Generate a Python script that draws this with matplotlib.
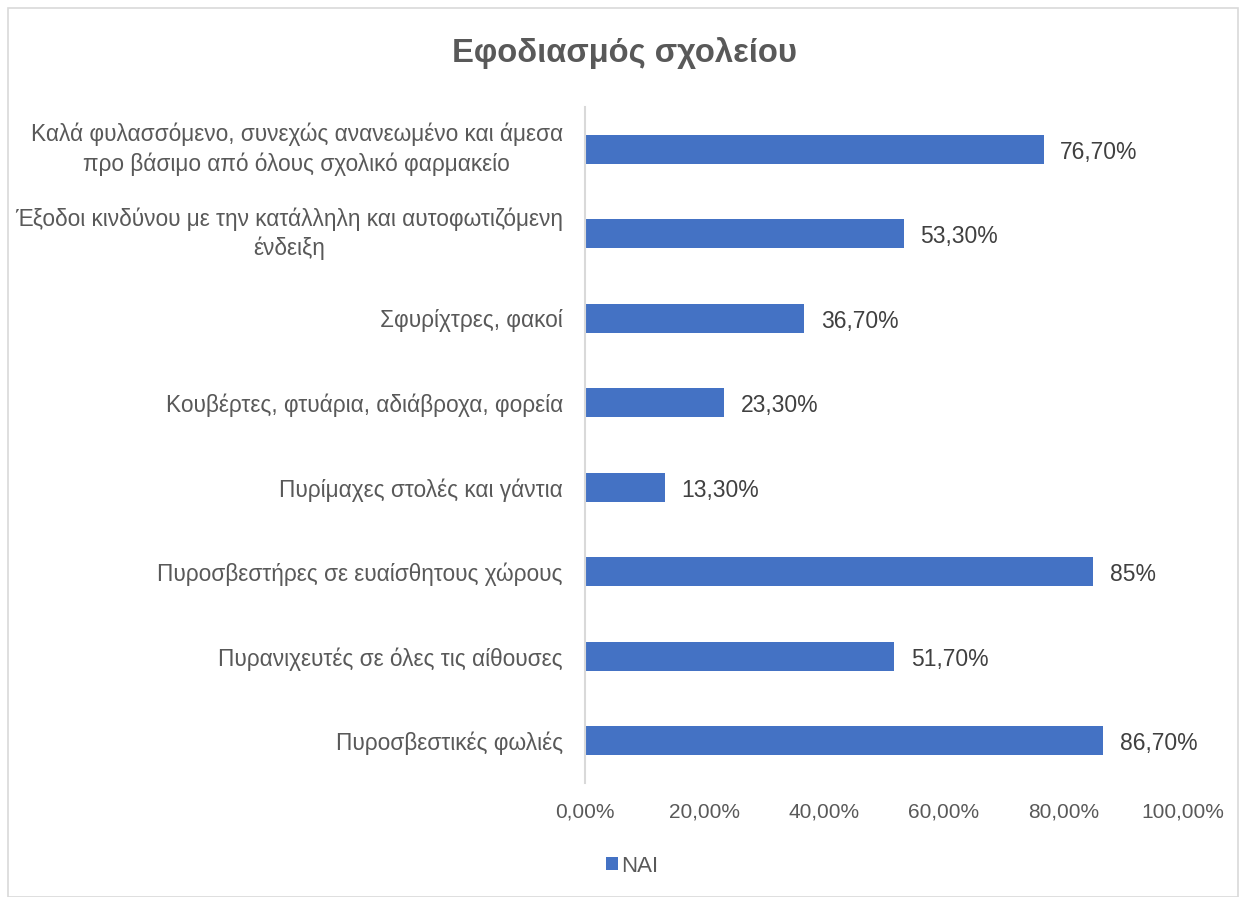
import matplotlib
matplotlib.use("Agg")
import matplotlib.pyplot as plt
from matplotlib.patches import Rectangle

plt.rcParams['font.family'] = ['Liberation Sans', 'DejaVu Sans']

categories = [
    "Καλά φυλασσόμενο, συνεχώς ανανεωμένο και άμεσα\nπρο βάσιμο από όλους σχολικό φαρμακείο",
    "Έξοδοι κινδύνου με την κατάλληλη και αυτοφωτιζόμενη\nένδειξη",
    "Σφυρίχτρες, φακοί",
    "Κουβέρτες, φτυάρια, αδιάβροχα, φορεία",
    "Πυρίμαχες στολές και γάντια",
    "Πυροσβεστήρες σε ευαίσθητους χώρους",
    "Πυρανιχευτές σε όλες τις αίθουσες",
    "Πυροσβεστικές φωλιές",
]
values = [76.7, 53.3, 36.7, 23.3, 13.3, 85.0, 51.7, 86.7]
value_labels = ["76,70%", "53,30%", "36,70%", "23,30%", "13,30%", "85%", "51,70%", "86,70%"]
xticks = [0, 20, 40, 60, 80, 100]
xtick_labels = ["0,00%", "20,00%", "40,00%", "60,00%", "80,00%", "100,00%"]
series_name = "ΝΑΙ"
title = "Εφοδιασμός σχολείου"

bar_color = "#4472C4"
text_color = "#595959"

fig = plt.figure(figsize=(12.4, 8.97), dpi=100)
fig.patch.set_facecolor("white")
fig.patches.append(Rectangle((8 / 1240, 0.0), 1 - 10 / 1240, 1 - 8 / 897,
                             transform=fig.transFigure, fill=False,
                             edgecolor="#D9D9D9", linewidth=1.2))

ax = fig.add_axes([585 / 1240, 1 - 783 / 897, (1183 - 585) / 1240, (783 - 107) / 897])
ypos = list(range(len(categories)))
ax.barh(ypos, values, height=0.345, color=bar_color, label=series_name)
ax.set_ylim(len(categories) - 0.5, -0.5)
ax.set_xlim(0, 100)

for y, v, lab in zip(ypos, values, value_labels):
    ax.annotate(lab, (v, y), xytext=(12, -2), textcoords="offset points",
                ha="left", va="center", fontsize=16.5, color="#404040")

ax.set_yticks(ypos)
ax.set_yticklabels(categories, fontsize=16.3, color=text_color,
                   multialignment="center", linespacing=1.35)
for lbl in ax.get_yticklabels():
    if "\n" in lbl.get_text():
        lbl.set_verticalalignment("center")
ax.set_xticks(xticks)
ax.set_xticklabels(xtick_labels, fontsize=15, color=text_color)
ax.tick_params(axis="both", length=0)
ax.tick_params(axis="y", pad=16)
ax.tick_params(axis="x", pad=14)
for side in ["top", "right", "bottom"]:
    ax.spines[side].set_visible(False)
ax.spines["left"].set_color("#D9D9D9")
ax.spines["left"].set_linewidth(1.5)

fig.text(625 / 1240, 1 - 53 / 897, title, ha="center", va="center",
         fontsize=23.6, fontweight="bold", color=text_color)

leg = fig.legend(loc="center", bbox_to_anchor=(632 / 1240, 1 - 866 / 897),
                 frameon=False, fontsize=16, handlelength=0.55, handleheight=0.55,
                 handletextpad=0.15)
for t in leg.get_texts():
    t.set_color(text_color)

fig.savefig("out.png", dpi=100)
